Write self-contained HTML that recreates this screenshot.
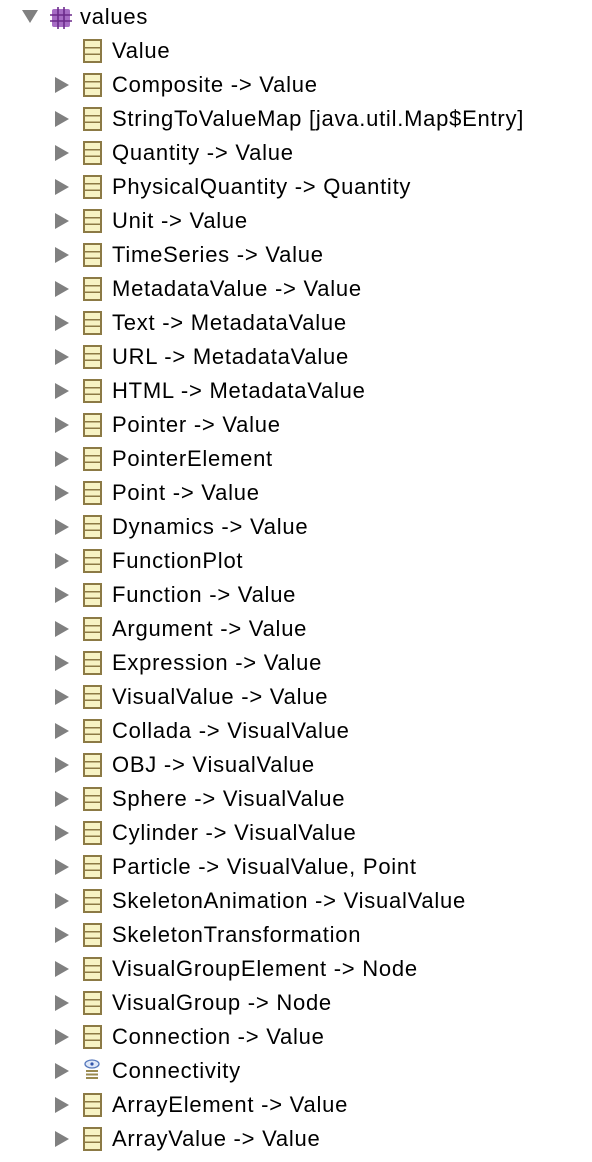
<!DOCTYPE html>
<html><head><meta charset="utf-8"><style>
body{margin:0;width:592px;height:1162px;background:#fff;position:relative;overflow:hidden;font-family:"Liberation Sans",Arial,sans-serif;}
.r{position:absolute;left:0;height:34px;width:592px;}
.t{position:absolute;left:112px;top:4px;font-size:22px;letter-spacing:0.75px;line-height:25px;color:#000;white-space:nowrap;}
.tri{position:absolute;left:55px;top:9px;width:0;height:0;border-top:8px solid transparent;border-bottom:8px solid transparent;border-left:14px solid #808080;}
.ic{position:absolute;left:83px;top:5px;width:15px;height:20px;border:2px solid #8c7a45;background:linear-gradient(#f7f3c4 0 30%,#8c7a45 30% 37%,#f7f3c4 37% 63%,#8c7a45 63% 70%,#f7f3c4 70%);}
</style></head><body>
<div class="r" style="top:0">
<div style="position:absolute;left:22px;top:10px;width:0;height:0;border-left:8.5px solid transparent;border-right:8.5px solid transparent;border-top:13px solid #808080"></div>
<svg style="position:absolute;left:50px;top:7px" width="22" height="22" viewBox="0 0 22 22"><rect x="2" y="2" width="18" height="18" rx="2" fill="#a66cc4"/><path d="M8 0V22M14 0V22M0 8H22M0 14H22" stroke="#6b2a8a" stroke-width="1.6"/></svg>
<div class="t" style="left:80px;top:4px">values</div></div>
<div class="r" style="top:34px"><div class="ic"></div><div class="t">Value</div></div>
<div id="rows"></div>
<script>
var items=["Composite -> Value","StringToValueMap [java.util.Map$Entry]","Quantity -> Value","PhysicalQuantity -> Quantity","Unit -> Value","TimeSeries -> Value","MetadataValue -> Value","Text -> MetadataValue","URL -> MetadataValue","HTML -> MetadataValue","Pointer -> Value","PointerElement","Point -> Value","Dynamics -> Value","FunctionPlot","Function -> Value","Argument -> Value","Expression -> Value","VisualValue -> Value","Collada -> VisualValue","OBJ -> VisualValue","Sphere -> VisualValue","Cylinder -> VisualValue","Particle -> VisualValue, Point","SkeletonAnimation -> VisualValue","SkeletonTransformation","VisualGroupElement -> Node","VisualGroup -> Node","Connection -> Value","Connectivity","ArrayElement -> Value","ArrayValue -> Value"];
var h="";
items.forEach(function(s,i){var top=68+34*i;var icon=s=="Connectivity"?'<svg style="position:absolute;left:82px;top:5px" width="20" height="22" viewBox="0 0 20 22"><ellipse cx="10" cy="5" rx="7" ry="4" fill="#dfe8f8" stroke="#5577bb" stroke-width="1.3"/><circle cx="10" cy="5" r="1.6" fill="#3355aa"/><path d="M4 12H16M4 15.5H16M4 19H16" stroke="#9a8a50" stroke-width="2"/></svg>':'<div class="ic"></div>';
h+='<div class="r" style="top:'+top+'px"><div class="tri"></div>'+icon+'<div class="t">'+s.replace(/>/g,"&gt;")+'</div></div>';});
document.getElementById("rows").innerHTML=h;
</script>
</body></html>
